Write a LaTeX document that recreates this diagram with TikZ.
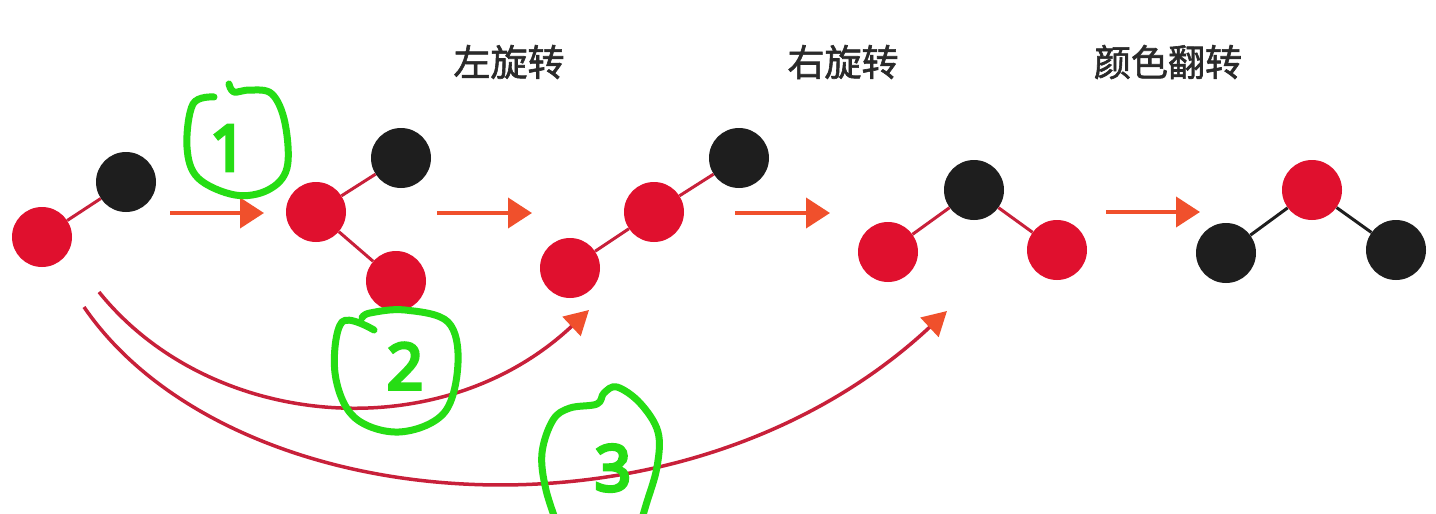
\documentclass[tikz,border=0pt]{standalone}
\usepackage{fontspec}
\setmainfont{Noto Sans}
\newfontfamily\cjk[FakeBold=1.6]{Noto Sans CJK SC}
\newfontfamily\handfont[FakeBold=5]{Noto Sans}
\usetikzlibrary{arrows.meta}
\definecolor{nodered}{HTML}{E0102E}
\definecolor{nodeblack}{HTML}{1E1E1E}
\definecolor{edgered}{HTML}{C8203A}
\definecolor{arrorange}{HTML}{F0502C}
\definecolor{handgreen}{HTML}{26DD14}
\definecolor{titlegray}{HTML}{2A2A2A}
\tikzset{
  rn/.style={circle,fill=nodered,minimum size=60pt,inner sep=0pt},
  bn/.style={circle,fill=nodeblack,minimum size=60pt,inner sep=0pt},
  redge/.style={draw=edgered,line width=3pt},
  bedge/.style={draw=nodeblack,line width=3pt},
  steparrow/.style={draw=arrorange,line width=4pt,-{Triangle[length=24pt,width=30pt,color=arrorange]}},
  curvearrow/.style={draw=edgered,line width=3.5pt,-{Triangle[length=24pt,width=26pt,color=arrorange]}},
  title/.style={font=\cjk\fontsize{37pt}{40pt}\selectfont,text=titlegray},
  loop/.style={draw=handgreen,line width=7pt,line cap=round,line join=round},
  handnum/.style={font=\handfont\fontsize{64pt}{70pt}\selectfont,text=handgreen},
}
\begin{document}
\begin{tikzpicture}[x=1pt,y=-1pt]
\useasboundingbox (0,0) rectangle (1436,514);
\clip (0,0) rectangle (1436,514);
\fill[white] (0,0) rectangle (1436,514);
% titles
\node[title] (t1) at (509,62) {左旋转};
\node[title] (t2) at (843,62) {右旋转};
\node[title] (t3) at (1168,62) {颜色翻转};
% group 1
\node[rn] (a1) at (42,237) {};
\node[bn] (a2) at (126,182) {};
\draw[redge] (a1) -- (a2);
% group 2
\node[rn] (b1) at (316,212) {};
\node[bn] (b2) at (401,158) {};
\node[rn] (b3) at (396,281) {};
\draw[redge] (b1) -- (b2);
\draw[redge] (b1) -- (b3);
% group 3
\node[rn] (c1) at (570,268) {};
\node[rn] (c2) at (654,212) {};
\node[bn] (c3) at (739,158) {};
\draw[redge] (c1) -- (c2);
\draw[redge] (c2) -- (c3);
% group 4
\node[rn] (d1) at (888,252) {};
\node[bn] (d2) at (974,190) {};
\node[rn] (d3) at (1057,250) {};
\draw[redge] (d1) -- (d2);
\draw[redge] (d2) -- (d3);
% group 5
\node[bn] (e1) at (1226,253) {};
\node[rn] (e2) at (1312,190) {};
\node[bn] (e3) at (1396,250) {};
\draw[bedge] (e1) -- (e2);
\draw[bedge] (e2) -- (e3);
% straight arrows
\coordinate (s1) at (170,213); \coordinate (f1) at (264,213);
\coordinate (s2) at (437,213); \coordinate (f2) at (532,213);
\coordinate (s3) at (735,213); \coordinate (f3) at (830,213);
\coordinate (s4) at (1106,212); \coordinate (f4) at (1200,212);
\draw[steparrow] (s1) -- (f1);
\draw[steparrow] (s2) -- (f2);
\draw[steparrow] (s3) -- (f3);
\draw[steparrow] (s4) -- (f4);
% curved arrows
\coordinate (cs2) at (99,292); \coordinate (ce2) at (589,310);
\coordinate (cs3) at (84,307); \coordinate (ce3) at (947,311);
\draw[curvearrow] (cs2) .. controls (210,430) and (440,450) .. (ce2);
\draw[curvearrow] (cs3) .. controls (230,520) and (680,560) .. (ce3);
% green annotations
\draw[loop] plot[smooth,tension=0.6] coordinates {(214,97)(193,104)(187,147)(198,178)(235,195)(268,190)(287,168)(285,123)(272,94)(250,90)(234,92)(229,84)};
\node[handnum] (n1) at (228,148) {1};
\draw[loop] plot[smooth,tension=0.6] coordinates {(374,330)(342,322)(335,373)(354,417)(399,432)(444,413)(458,363)(448,322)(405,310)(370,313)(362,318)};
\node[handnum] (n2) at (405,366) {2};
\draw[loop] plot[smooth,tension=0.6] coordinates {(560,532)(546,490)(542,453)(553,420)(570,408)(597,404)(604,393)(617,387)(640,403)(658,432)(657,467)(646,505)(638,532)};
\node[handnum] (n3) at (613,468) {3};
\end{tikzpicture}
\end{document}
